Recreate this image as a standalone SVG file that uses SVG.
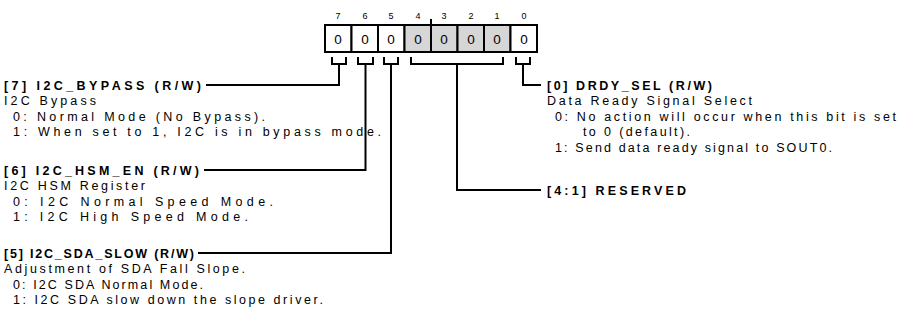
<svg xmlns="http://www.w3.org/2000/svg" width="901" height="322" viewBox="0 0 901 322">
<style>
text{font-family:"Liberation Sans",Arial,sans-serif;fill:#000}
.h{font-size:12.5px;font-weight:bold}
.t{font-size:12.5px}
.bn{font-size:9px;fill:#333;text-anchor:middle}
.v{font-size:13.5px;text-anchor:middle}
.ln{fill:none;stroke:#000;stroke-width:2}
.cell{stroke:#000;stroke-width:2}
</style>
<rect width="901" height="322" fill="#fff"/>
<g id="register">
<g class="bn">
<text x="338" y="19">7</text><text x="365" y="19">6</text><text x="391" y="19">5</text><text x="418" y="19">4</text><text x="444" y="19">3</text><text x="471" y="19">2</text><text x="497" y="19">1</text><text x="524" y="19">0</text>
</g>
<line x1="431" y1="19" x2="431" y2="25" class="ln"/>
<rect x="325" y="25" width="26.5" height="27" class="cell" fill="#fff"/>
<rect x="351.5" y="25" width="26.5" height="27" class="cell" fill="#fff"/>
<rect x="378" y="25" width="26.5" height="27" class="cell" fill="#fff"/>
<rect x="404.5" y="25" width="26.5" height="27" class="cell" fill="#d6d6d6"/>
<rect x="431" y="25" width="26.5" height="27" class="cell" fill="#d6d6d6"/>
<rect x="457.5" y="25" width="26.5" height="27" class="cell" fill="#d6d6d6"/>
<rect x="484" y="25" width="26.5" height="27" class="cell" fill="#d6d6d6"/>
<rect x="510.5" y="25" width="26.5" height="27" class="cell" fill="#fff"/>
<g class="v">
<text x="338" y="43.5">0</text><text x="365" y="43.5">0</text><text x="391" y="43.5">0</text><text x="418" y="43.5">0</text><text x="444" y="43.5">0</text><text x="471" y="43.5">0</text><text x="497" y="43.5">0</text><text x="524" y="43.5">0</text>
</g>
</g>
<g id="connectors" class="ln">
<path d="M332 57V64H346V57M339 64V85H206"/>
<path d="M358 57V64H373V57M365.5 64V170H204"/>
<path d="M384 57V64H398V57M391 64V253H198"/>
<path d="M411 57V64H503V57M457 64V190H541"/>
<path d="M516 57V64H530V57M523 64V85H541"/>
</g>
<g id="bit7">
<text class="h" x="4" y="89.5" textLength="197" lengthAdjust="spacing">[7] I2C_BYPASS (R/W)</text>
<text class="t" x="4" y="105" textLength="92" lengthAdjust="spacing">I2C Bypass</text>
<text class="t" x="13" y="120.5" textLength="252" lengthAdjust="spacing">0:  Normal Mode (No Bypass).</text>
<text class="t" x="13" y="136" textLength="368" lengthAdjust="spacing">1:  When set to 1, I2C is in bypass mode.</text>
</g>
<g id="bit6">
<text class="h" x="4" y="174.5" textLength="195" lengthAdjust="spacing">[6] I2C_HSM_EN (R/W)</text>
<text class="t" x="4" y="190" textLength="141" lengthAdjust="spacing">I2C HSM Register</text>
<text class="t" x="13" y="205.5" textLength="260" lengthAdjust="spacing">0:  I2C Normal Speed Mode.</text>
<text class="t" x="13" y="221" textLength="235" lengthAdjust="spacing">1:  I2C High Speed Mode.</text>
</g>
<g id="bit5">
<text class="h" x="4" y="257.5" textLength="190" lengthAdjust="spacing">[5] I2C_SDA_SLOW (R/W)</text>
<text class="t" x="4" y="273" textLength="241" lengthAdjust="spacing">Adjustment of SDA Fall Slope.</text>
<text class="t" x="13" y="288.5" textLength="190" lengthAdjust="spacing">0:  I2C SDA Normal Mode.</text>
<text class="t" x="13" y="304" textLength="310" lengthAdjust="spacing">1:  I2C SDA slow down the slope driver.</text>
</g>
<g id="bit0">
<text class="h" x="547" y="89.5" textLength="165" lengthAdjust="spacing">[0] DRDY_SEL (R/W)</text>
<text class="t" x="547" y="105" textLength="205" lengthAdjust="spacing">Data Ready Signal Select</text>
<text class="t" x="555" y="120.5" textLength="341" lengthAdjust="spacing">0:  No action will occur when this bit is set</text>
<text class="t" x="583" y="136" textLength="107" lengthAdjust="spacing">to 0 (default).</text>
<text class="t" x="555" y="151.5" textLength="277" lengthAdjust="spacing">1:  Send data ready signal to SOUT0.</text>
</g>
<g id="bits4-1">
<text class="h" x="547" y="194.5" textLength="139" lengthAdjust="spacing">[4:1] RESERVED</text>
</g>
</svg>
